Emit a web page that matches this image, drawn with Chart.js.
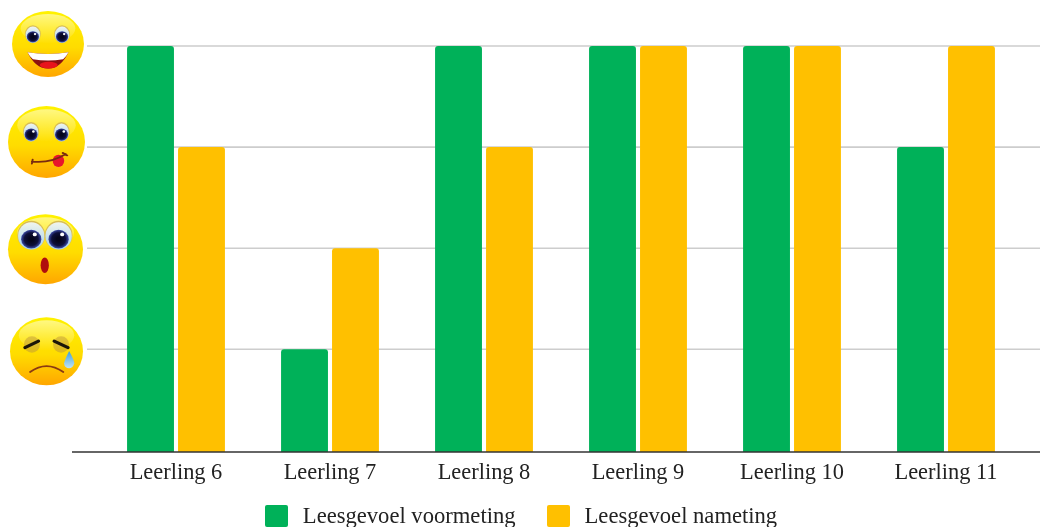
<!DOCTYPE html>
<html lang="nl">
<head>
    <meta charset="UTF-8">
    <title>Leesgevoel voormeting en nameting</title>
    <script src="https://cdn.jsdelivr.net/npm/chart.js"></script>
    <style>
        html, body {
            margin: 0;
            padding: 0;
            background: #fff;
            overflow: hidden;
        }

        #wrap {
            position: relative;
            width: 1040px;
            height: 527px;
        }

        #legend {
            position: absolute;
            left: 1px;
            top: 505px;
            width: 1040px;
            display: flex;
            justify-content: center;
            font: 22.6px "Liberation Serif", serif;
            line-height: 22px;
            color: #222;
        }

        .item {
            display: flex;
            margin: 0 15.5px;
        }

        .box {
            width: 23px;
            height: 22px;
            border-radius: 2px;
            margin-right: 15px;
        }
    </style>
</head>
<body>
    <div id="wrap">
        <canvas id="leesChart" width="1040" height="527"></canvas>
        <div id="legend"></div>
    </div>

    <script>
        const categories = ["Leerling 6", "Leerling 7", "Leerling 8", "Leerling 9", "Leerling 10", "Leerling 11"];
        const voormeting = [4, 1, 4, 4, 4, 3];
        const nameting = [3, 2, 3, 4, 4, 4];
        const seriesNames = ["Leesgevoel voormeting", "Leesgevoel nameting"];
        const seriesColors = ["#00b159", "#ffc000"];
        const levels = [1, 2, 3, 4];
        const levelFaces = ["sad", "surprised", "tongue", "happy"];

        // axis line sits a hair below the zero level
        const axisFloor = -0.016;

        // placement of each face next to its grid line
        const faceBoxes = {
            happy: { cx: 48, dy: -2, rx: 36, ry: 33 },
            tongue: { cx: 46.5, dy: -5, rx: 38.5, ry: 36 },
            surprised: { cx: 45.5, dy: 1, rx: 37.5, ry: 35 },
            sad: { cx: 46.5, dy: 2, rx: 36.5, ry: 34 }
        };

        function ellipse(ctx, x, y, rx, ry, fill) {
            ctx.beginPath();
            ctx.ellipse(x, y, rx, ry, 0, 0, Math.PI * 2);
            ctx.fillStyle = fill;
            ctx.fill();
        }

        function drawEye(ctx, x, y, sx, sy, pupil) {
            const white = ctx.createLinearGradient(0, y - sy, 0, y + sy);
            white.addColorStop(0, "#f4f6ee");
            white.addColorStop(1, "#a6d4ea");
            ellipse(ctx, x, y, sx, sy, "#d8bd55");
            ellipse(ctx, x, y + 0.02, sx - 0.02, sy - 0.02, white);
            const py = y + sy - pupil * 1.1;
            const iris = ctx.createRadialGradient(x, py, pupil * 0.2, x, py, pupil);
            iris.addColorStop(0, "#05051c");
            iris.addColorStop(0.6, "#0d0f3a");
            iris.addColorStop(1, "#3c4aa8");
            ellipse(ctx, x, py, pupil, pupil, iris);
            ellipse(ctx, x + pupil * 0.35, py - pupil * 0.5, pupil * 0.2, pupil * 0.2, "#fff");
        }

        function stroke(ctx, color, width, path) {
            ctx.beginPath();
            path();
            ctx.strokeStyle = color;
            ctx.lineWidth = width;
            ctx.lineCap = "round";
            ctx.stroke();
        }

        // faces are drawn on a unit circle, then stretched to their box
        function drawFace(ctx, kind, cx, cy, rx, ry) {
            ctx.save();
            ctx.translate(cx, cy);
            ctx.scale(rx, ry);

            const skin = ctx.createLinearGradient(0, -1, 0, 1);
            skin.addColorStop(0, "#fff200");
            skin.addColorStop(0.55, "#ffdc00");
            skin.addColorStop(1, "#ffa600");
            ellipse(ctx, 0, 0, 1, 1, skin);

            const glow = ctx.createLinearGradient(0, -0.9, 0, 0);
            glow.addColorStop(0, "rgba(255,255,255,0.5)");
            glow.addColorStop(1, "rgba(255,255,255,0)");
            ellipse(ctx, 0, -0.47, 0.76, 0.44, glow);

            if (kind === "happy") {
                drawEye(ctx, -0.42, -0.3, 0.22, 0.27, 0.17);
                drawEye(ctx, 0.39, -0.3, 0.22, 0.27, 0.17);
                ctx.beginPath();
                ctx.moveTo(-0.57, 0.25);
                ctx.quadraticCurveTo(0, 0.36, 0.57, 0.25);
                ctx.quadraticCurveTo(0.35, 0.75, 0, 0.74);
                ctx.quadraticCurveTo(-0.35, 0.75, -0.57, 0.25);
                ctx.fillStyle = "#8c1010";
                ctx.fill();
                ellipse(ctx, 0.02, 0.64, 0.25, 0.1, "#e8141c");
                ctx.beginPath();
                ctx.moveTo(-0.57, 0.25);
                ctx.quadraticCurveTo(0, 0.36, 0.57, 0.25);
                ctx.quadraticCurveTo(0.5, 0.4, 0.42, 0.46);
                ctx.quadraticCurveTo(0, 0.54, -0.42, 0.46);
                ctx.quadraticCurveTo(-0.5, 0.4, -0.57, 0.25);
                ctx.fillStyle = "#fff";
                ctx.fill();
            } else if (kind === "tongue") {
                drawEye(ctx, -0.4, -0.29, 0.21, 0.27, 0.17);
                drawEye(ctx, 0.39, -0.29, 0.21, 0.27, 0.17);
                ellipse(ctx, 0.31, 0.52, 0.15, 0.17, "#e8142c");
                stroke(ctx, "#7a2a10", 0.05, () => {
                    ctx.moveTo(-0.36, 0.49);
                    ctx.lineTo(-0.38, 0.6);
                    ctx.moveTo(-0.38, 0.54);
                    ctx.quadraticCurveTo(0.1, 0.6, 0.5, 0.33);
                    ctx.moveTo(0.42, 0.3);
                    ctx.lineTo(0.54, 0.37);
                });
            } else if (kind === "surprised") {
                drawEye(ctx, -0.38, -0.4, 0.37, 0.41, 0.27);
                drawEye(ctx, 0.35, -0.4, 0.37, 0.41, 0.27);
                ellipse(ctx, -0.02, 0.46, 0.11, 0.22, "#b00d0d");
            } else {
                ellipse(ctx, -0.4, -0.2, 0.22, 0.24, "rgba(190,150,60,0.5)");
                ellipse(ctx, 0.4, -0.2, 0.22, 0.24, "rgba(190,150,60,0.5)");
                stroke(ctx, "#1c1608", 0.09, () => {
                    ctx.moveTo(-0.59, -0.11);
                    ctx.lineTo(-0.22, -0.3);
                    ctx.moveTo(0.21, -0.3);
                    ctx.lineTo(0.59, -0.11);
                });
                stroke(ctx, "#8a3a12", 0.05, () => {
                    ctx.moveTo(-0.45, 0.61);
                    ctx.quadraticCurveTo(0, 0.26, 0.46, 0.61);
                });
                const tear = ctx.createLinearGradient(0, 0, 0, 0.55);
                tear.addColorStop(0, "#3d9fdc");
                tear.addColorStop(1, "#cfeaf6");
                ctx.beginPath();
                ctx.moveTo(0.62, -0.01);
                ctx.quadraticCurveTo(0.77, 0.28, 0.76, 0.36);
                ctx.quadraticCurveTo(0.72, 0.5, 0.62, 0.5);
                ctx.quadraticCurveTo(0.5, 0.5, 0.48, 0.36);
                ctx.quadraticCurveTo(0.5, 0.25, 0.62, -0.01);
                ctx.fillStyle = tear;
                ctx.fill();
            }
            ctx.restore();
        }

        // grid lines run past the plot on both sides, the baseline even further
        const frameLines = {
            id: "frameLines",
            beforeDatasetsDraw(chart) {
                const ctx = chart.ctx;
                const y = chart.scales.y;
                ctx.save();
                ctx.strokeStyle = "#cdcdcd";
                ctx.lineWidth = 1.6;
                levels.forEach(level => {
                    const py = y.getPixelForValue(level);
                    ctx.beginPath();
                    ctx.moveTo(87, py);
                    ctx.lineTo(chart.width, py);
                    ctx.stroke();
                });
                ctx.restore();
            },
            afterDatasetsDraw(chart) {
                const ctx = chart.ctx;
                const py = chart.scales.y.getPixelForValue(axisFloor);
                ctx.save();
                ctx.strokeStyle = "#333";
                ctx.lineWidth = 1.6;
                ctx.beginPath();
                ctx.moveTo(72, py);
                ctx.lineTo(chart.width, py);
                ctx.stroke();
                ctx.restore();
            }
        };

        // the value axis shows smileys instead of numbers
        const faceTicks = {
            id: "faceTicks",
            afterDraw(chart) {
                const y = chart.scales.y;
                levels.forEach((level, i) => {
                    const kind = levelFaces[i];
                    const b = faceBoxes[kind];
                    drawFace(chart.ctx, kind, b.cx, y.getPixelForValue(level) + b.dy, b.rx, b.ry);
                });
            }
        };

        new Chart(document.getElementById("leesChart"), {
            type: "bar",
            data: {
                labels: categories,
                datasets: [
                    { label: seriesNames[0], data: voormeting, backgroundColor: seriesColors[0] },
                    { label: seriesNames[1], data: nameting, backgroundColor: seriesColors[1] }
                ]
            },
            options: {
                responsive: false,
                animation: false,
                categoryPercentage: 0.662,
                barPercentage: 0.92,
                base: axisFloor,
                borderRadius: { topLeft: 3, topRight: 3 },
                borderSkipped: "bottom",
                layout: { padding: { left: 99, right: 17, top: 46 } },
                plugins: {
                    legend: { display: false },
                    tooltip: { enabled: false }
                },
                scales: {
                    x: {
                        grid: { display: false },
                        border: { display: false },
                        afterFit(scale) { scale.height = 75; },
                        ticks: {
                            padding: 0,
                            maxRotation: 0,
                            color: "#222",
                            font: { family: "Liberation Serif", size: 22.4 }
                        }
                    },
                    y: {
                        display: false,
                        min: axisFloor,
                        max: 4
                    }
                }
            },
            plugins: [frameLines, faceTicks]
        });

        // legend row under the chart
        const legend = document.getElementById("legend");
        seriesNames.forEach((name, i) => {
            const item = document.createElement("div");
            item.className = "item";
            item.innerHTML = `<span class="box" style="background:${seriesColors[i]}"></span><span>${name}</span>`;
            legend.appendChild(item);
        });
    </script>
</body>
</html>
